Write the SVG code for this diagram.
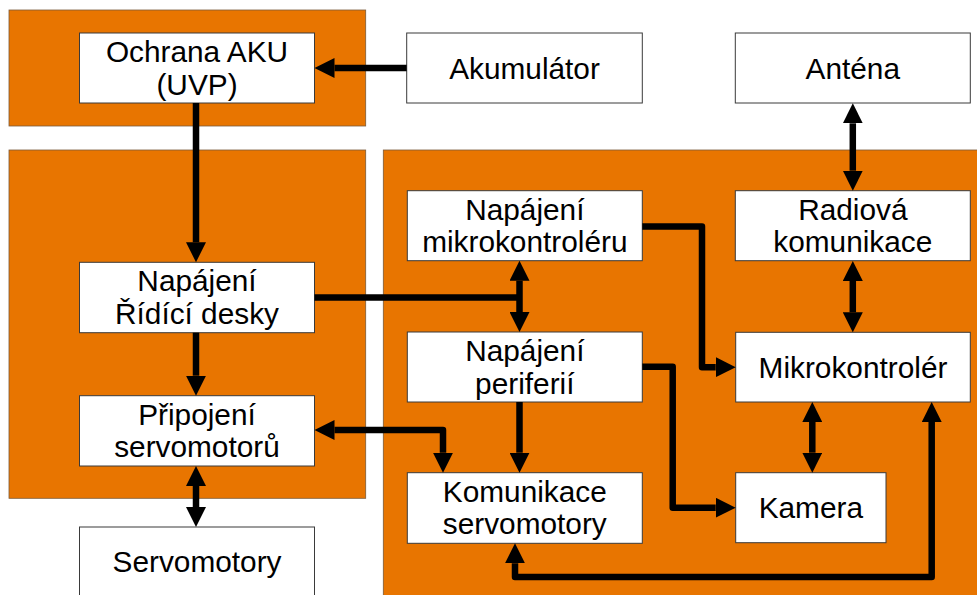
<svg xmlns="http://www.w3.org/2000/svg" width="977" height="595" viewBox="0 0 977 595">
<style>
.area{fill:#e87500;stroke:#7a5a3a;stroke-width:0.8}
.box{fill:#ffffff;stroke:#3a3a3a;stroke-width:1}
.t{font-family:"Liberation Sans",Arial,sans-serif;font-size:29.8px;fill:#000;text-anchor:middle}
.c{fill:none;stroke:#000;stroke-width:6.5;stroke-linejoin:round}
</style>
<defs>
<marker id="ah" markerUnits="userSpaceOnUse" markerWidth="20" markerHeight="20" refX="0" refY="10" orient="auto-start-reverse" viewBox="0 0 20 20">
<path d="M0,0 L20,10 L0,20 z" fill="#000"/>
</marker>
</defs>
<rect width="977" height="595" fill="#ffffff"/>
<g id="areas">
<rect class="area" x="9" y="10" width="356.7" height="116"/>
<rect class="area" x="9" y="150" width="356.7" height="348.3"/>
<rect class="area" x="383.3" y="150" width="600" height="450"/>
</g>
<g id="ochrana"><rect class="box" x="79.5" y="33" width="235" height="70"/><text class="t" x="197" y="62">Ochrana AKU</text><text class="t" x="197" y="94.5">(UVP)</text></g>
<g id="akumulator"><rect class="box" x="406.7" y="33" width="235.6" height="70"/><text class="t" x="524.5" y="78.5">Akumulátor</text></g>
<g id="antena"><rect class="box" x="735.3" y="33" width="235" height="70"/><text class="t" x="852.8" y="78.5">Anténa</text></g>
<g id="napajeni-mikro"><rect class="box" x="407.3" y="190.7" width="235" height="70"/><text class="t" x="524.8" y="219.7">Napájení</text><text class="t" x="524.8" y="252.2">mikrokontroléru</text></g>
<g id="radiova"><rect class="box" x="735.3" y="190.7" width="235" height="70"/><text class="t" x="852.8" y="219.7">Radiová</text><text class="t" x="852.8" y="252.2">komunikace</text></g>
<g id="napajeni-ridici"><rect class="box" x="79.5" y="262.3" width="235" height="70.4"/><text class="t" x="197" y="291.3">Napájení</text><text class="t" x="197" y="323.8">Řídící desky</text></g>
<g id="napajeni-periferii"><rect class="box" x="407.3" y="332" width="235" height="70"/><text class="t" x="524.8" y="361">Napájení</text><text class="t" x="524.8" y="393.5">periferií</text></g>
<g id="mikrokontroler"><rect class="box" x="735.7" y="332.3" width="234.6" height="69.7"/><text class="t" x="853" y="377.7">Mikrokontrolér</text></g>
<g id="pripojeni"><rect class="box" x="79.5" y="395.7" width="235" height="70.3"/><text class="t" x="197" y="424.7">Připojení</text><text class="t" x="197" y="457.2">servomotorů</text></g>
<g id="komunikace"><rect class="box" x="407.3" y="472.7" width="235" height="70.6"/><text class="t" x="524.8" y="501.7">Komunikace</text><text class="t" x="524.8" y="534.2">servomotory</text></g>
<g id="kamera"><rect class="box" x="735.7" y="472.7" width="150.3" height="70"/><text class="t" x="810.8" y="518.2">Kamera</text></g>
<g id="servomotory"><rect class="box" x="79.5" y="527" width="235" height="72"/><text class="t" x="197" y="572.2">Servomotory</text></g>
<g id="connectors">
<path class="c" d="M406.7,68 H334.5" marker-end="url(#ah)"/>
<path class="c" d="M196,103 V242.3" marker-end="url(#ah)"/>
<path class="c" d="M196,332.7 V375.7" marker-end="url(#ah)"/>
<path class="c" d="M196,486 V507" marker-start="url(#ah)" marker-end="url(#ah)"/>
<path class="c" d="M314.5,297.5 H519.5"/>
<path class="c" d="M519.5,280.7 V312" marker-start="url(#ah)" marker-end="url(#ah)"/>
<path class="c" d="M642.3,226.5 H702 V367.2 H715.7" marker-end="url(#ah)"/>
<path class="c" d="M642.3,366.7 H672.7 V507.7 H715.7" marker-end="url(#ah)"/>
<path class="c" d="M519.5,402 V452.7" marker-end="url(#ah)"/>
<path class="c" d="M334.5,430 H443 V452.7" marker-start="url(#ah)" marker-end="url(#ah)"/>
<path class="c" d="M852.8,123.3 V170.7" marker-start="url(#ah)" marker-end="url(#ah)"/>
<path class="c" d="M852.8,281 V312.3" marker-start="url(#ah)" marker-end="url(#ah)"/>
<path class="c" d="M812.3,422 V452.7" marker-start="url(#ah)" marker-end="url(#ah)"/>
<path class="c" d="M515,563.3 V577 H931.7 V422" marker-start="url(#ah)" marker-end="url(#ah)"/>
</g>
</svg>
